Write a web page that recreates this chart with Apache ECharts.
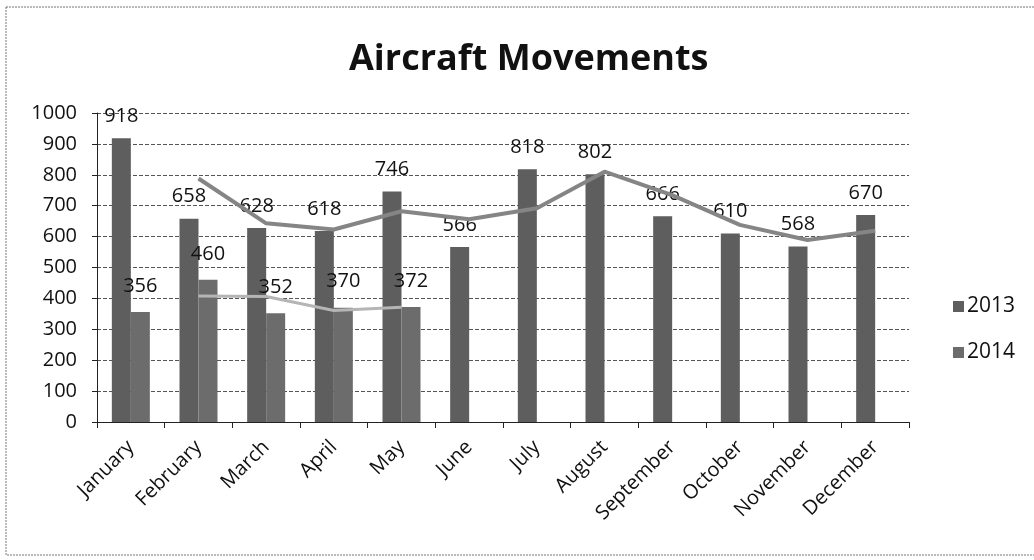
<!DOCTYPE html>
<html>
<head>
<meta charset="utf-8">
<script src="https://cdn.jsdelivr.net/npm/echarts@6/dist/echarts.min.js"></script>
<style>
  html, body { margin: 0; padding: 0; background: #fff; }
  #chart { width: 1034px; height: 560px; }
</style>
</head>
<body>
<div id="chart"></div>
<script>
// values
var months = ['January', 'February', 'March', 'April', 'May', 'June', 'July',
              'August', 'September', 'October', 'November', 'December'];
var movements2013 = [918, 658, 628, 618, 746, 566, 818, 802, 666, 610, 568, 670];
var movements2014 = [356, 460, 352, 370, 372, null, null, null, null, null, null, null];
// moving-average trend lines as they appear in the picture
var trend2013 = [null, 788, 643, 623, 682, 656, 692, 810, 734, 638, 589, 619];
var trend2014 = [null, 408, 406, 361, 371, null, null, null, null, null, null, null];
var yTicks = [0, 1000, 100]; // min, max, step

var font = '"Open Sans", "Liberation Sans", sans-serif';

var chart = echarts.init(document.getElementById('chart'));
chart.setOption({
    backgroundColor: '#fff',
    animation: false,
    textStyle: { fontFamily: font, color: '#111' },
    title: {
        text: 'Aircraft Movements',
        left: 344,
        top: 37,
        textStyle: { fontFamily: font, fontSize: 36, fontWeight: 'bold', color: '#111' }
    },
    legend: {
        orient: 'vertical',
        left: 948,
        top: 291,
        itemGap: 25,
        itemWidth: 11,
        itemHeight: 11,
        icon: 'rect',
        data: ['2013', '2014'],
        textStyle: { fontFamily: font, fontSize: 21, color: '#111', padding: [0, 0, 0, -2] }
    },
    grid: { left: 97, right: 125, top: 113, bottom: 138 },
    xAxis: {
        type: 'category',
        data: months,
        axisLine: { lineStyle: { color: '#222', width: 1 } },
        axisTick: { show: true, length: 6, lineStyle: { color: '#222' } },
        axisLabel: { rotate: 45, fontSize: 20, color: '#111', margin: 22, interval: 0 }
    },
    yAxis: {
        type: 'value',
        min: yTicks[0],
        max: yTicks[1],
        interval: yTicks[2],
        axisLine: { show: true, lineStyle: { color: '#222', width: 1 } },
        axisTick: { show: true, length: 5, lineStyle: { color: '#222' } },
        axisLabel: { fontSize: 20, color: '#111', margin: 20, formatter: function (v) { return String(v); } },
        splitLine: { lineStyle: { color: '#555', type: [4, 2], width: 1 } }
    },
    graphic: [{
        type: 'rect',
        shape: { x: 6, y: 7, width: 1040, height: 548 },
        style: { fill: 'none', stroke: '#777', lineWidth: 1, lineDash: [2, 1] },
        silent: true
    }],
    series: [
        {
            name: '2013',
            type: 'bar',
            data: movements2013,
            barWidth: 19,
            barGap: '0%',
            itemStyle: { color: '#5e5e5e' },
            label: { show: true, position: 'top', distance: 12, fontSize: 20, color: '#111' }
        },
        {
            name: '2014',
            type: 'bar',
            data: movements2014,
            barWidth: 19,
            itemStyle: { color: '#6c6c6c' },
            label: { show: true, position: 'top', distance: 16, fontSize: 20, color: '#111' }
        },
        {
            name: 'trend 2013',
            type: 'line',
            data: trend2013,
            showSymbol: false,
            z: 3,
            lineStyle: { color: '#858585', width: 4 }
        },
        {
            name: 'trend 2014',
            type: 'line',
            data: trend2014,
            showSymbol: false,
            z: 3,
            lineStyle: { color: '#b5b5b5', width: 3 }
        }
    ]
});
</script>
</body>
</html>
